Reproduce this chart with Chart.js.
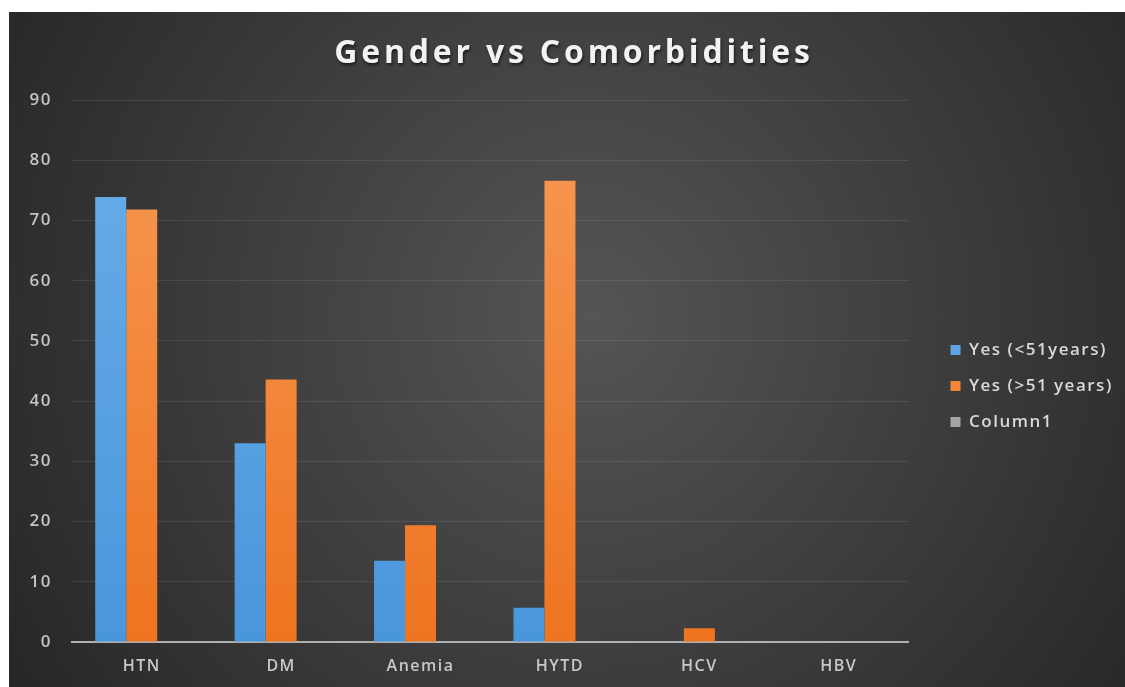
<!DOCTYPE html>
<html>
<head>
<meta charset="utf-8">
<script src="https://cdn.jsdelivr.net/npm/chart.js@4.4.1/dist/chart.umd.min.js"></script>
<style>
  html, body { margin: 0; padding: 0; background: #ffffff; overflow: hidden; }
  #chart { position: absolute; left: 9px; top: 12px; }
</style>
</head>
<body>
<canvas id="chart" width="1124" height="683"></canvas>
<script>
const categories = ['HTN', 'DM', 'Anemia', 'HYTD', 'HCV', 'HBV'];
const youngValues = [73.9, 33.0, 13.5, 5.7, 0, 0];
const olderValues = [71.8, 43.6, 19.4, 76.6, 2.3, 0];
const column1Values = [0, 0, 0, 0, 0, 0];
const yTicks = [0, 10, 20, 30, 40, 50, 60, 70, 80, 90];
const chartTitle = 'Gender vs Comorbidities';

// dark radial backdrop, wide lettering, and the heading
const backdrop = {
  id: 'backdrop',
  beforeLayout(chart) {
    chart.ctx.letterSpacing = '1.5px';
  },
  beforeDraw(chart) {
    const { ctx, width, height } = chart;
    ctx.letterSpacing = '1.5px';
    const g = ctx.createRadialGradient(580, 305, 0, 580, 305, 690);
    g.addColorStop(0, '#555555');
    g.addColorStop(1, '#262626');
    ctx.save();
    ctx.fillStyle = g;
    ctx.fillRect(0, 0, width, height);
    ctx.restore();
  },
  afterDraw(chart) {
    const { ctx } = chart;
    ctx.save();
    ctx.font = 'bold 32px "Open Sans"';
    ctx.letterSpacing = '3.8px';
    ctx.textAlign = 'center';
    ctx.textBaseline = 'alphabetic';
    ctx.shadowColor = 'rgba(0,0,0,0.6)';
    ctx.shadowBlur = 3;
    ctx.shadowOffsetX = 1;
    ctx.shadowOffsetY = 2;
    ctx.fillStyle = '#f2f2f2';
    ctx.fillText(chartTitle, 565, 51);
    ctx.restore();
  }
};

function barFill(top, bottom) {
  return (c) => {
    const area = c.chart.chartArea;
    if (!area) return bottom;
    const g = c.chart.ctx.createLinearGradient(0, area.top, 0, area.bottom);
    g.addColorStop(0, top);
    g.addColorStop(1, bottom);
    return g;
  };
}

const ctx = document.getElementById('chart').getContext('2d');
new Chart(ctx, {
  type: 'bar',
  data: {
    labels: categories,
    datasets: [
      { label: 'Yes (<51years)', data: youngValues, backgroundColor: barFill('#6aaee8', '#4a96dc') },
      { label: 'Yes (>51 years)', data: olderValues, backgroundColor: barFill('#f79a55', '#ee7420') },
      { label: 'Column1', data: column1Values, backgroundColor: '#a5a5a5' }
    ]
  },
  options: {
    responsive: false,
    devicePixelRatio: 1,
    animation: false,
    datasets: { bar: { barPercentage: 1, categoryPercentage: 0.667, borderWidth: 0 } },
    layout: { padding: { left: 0, right: 17, top: 88, bottom: 23 } },
    plugins: {
      title: { display: false },
      legend: {
        position: 'right',
        labels: {
          color: '#d9d9d9',
          font: { family: 'Open Sans', size: 17, weight: '600' },
          boxWidth: 10,
          boxHeight: 10,
          padding: 19
        }
      },
      tooltip: { enabled: false }
    },
    scales: {
      x: {
        grid: { display: false },
        border: { color: '#b0b0b0', width: 2 },
        ticks: { color: '#c8c8c8', font: { family: 'Open Sans', size: 16, weight: '600' }, padding: 7 },
        afterFit: (scale) => { scale.height = 30; }
      },
      y: {
        min: 0,
        max: 90,
        afterBuildTicks: (scale) => { scale.ticks = yTicks.map(v => ({ value: v })); },
        grid: { color: 'rgba(255,255,255,0.09)', drawTicks: false },
        border: { display: false },
        ticks: { color: '#c4c4c4', font: { family: 'Open Sans', size: 17, weight: '600' }, padding: 20 },
        afterFit: (scale) => { scale.width = 63; }
      },
      // empty axis that keeps a gap between the plot and the legend
      gap: {
        type: 'linear',
        position: 'right',
        display: true,
        grid: { display: false },
        border: { display: false },
        ticks: { display: false },
        afterFit: (scale) => { scale.width = 23; }
      }
    }
  },
  plugins: [backdrop]
});
</script>
</body>
</html>
